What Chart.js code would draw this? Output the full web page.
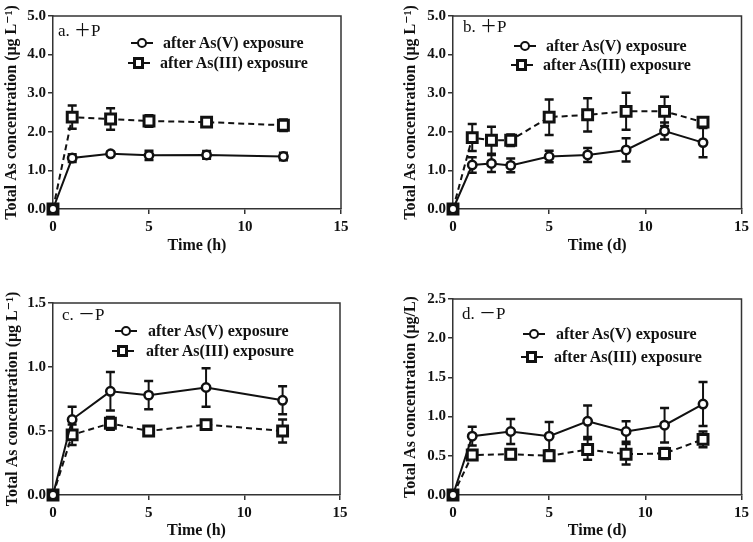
<!DOCTYPE html>
<html>
<head>
<meta charset="utf-8">
<script src="https://cdn.jsdelivr.net/npm/chart.js@4.4.1/dist/chart.umd.min.js"></script>
<style>
  body { margin: 0; background: #fff; }
  #page { position: relative; width: 753px; height: 542px; overflow: hidden; }
  .panel { position: absolute; }
  .panel canvas { position: absolute; left: 0; top: 0; }
  .tag { position: absolute; font: 17px "Liberation Serif", "Noto Sans CJK SC", serif; color: #111; white-space: nowrap; line-height: 18px; }
  .leg { position: absolute; font: bold 16px "Liberation Serif", serif; color: #111; white-space: nowrap; line-height: 16px; }
  .sym { position: absolute; width: 22px; height: 12px; }
  .sym .ln { position: absolute; left: 0; right: 0; top: 5px; border-top: 2px solid #111; }
  .sym .ln.dashed { border-top-style: dashed; }
  .sym .mk { position: absolute; background: #fff; border: 2.5px solid #111; box-sizing: border-box; }
  .sym .mk.circle { left: 6px; top: 1px; width: 10px; height: 10px; border-radius: 50%; }
  .sym .mk.square { left: 5px; top: 0px; width: 11px; height: 12px; border-width: 3px; }
</style>
</head>
<body>
<div id="page">
  <div class="panel" id="pa" style="left:0;top:0;width:376px;height:271px;">
    <canvas id="chartA" width="376" height="271"></canvas>
    <div class="tag" style="left:58px;top:22px;">a. ＋P</div>
  </div>
  <div class="panel" id="pb" style="left:376px;top:0;width:377px;height:271px;">
    <canvas id="chartB" width="377" height="271"></canvas>
    <div class="tag" style="left:87px;top:18px;">b. ＋P</div>
  </div>
  <div class="panel" id="pc" style="left:0;top:271px;width:376px;height:271px;">
    <canvas id="chartC" width="376" height="271"></canvas>
    <div class="tag" style="left:62px;top:35px;">c. －P</div>
  </div>
  <div class="panel" id="pd" style="left:376px;top:271px;width:377px;height:271px;">
    <canvas id="chartD" width="377" height="271"></canvas>
    <div class="tag" style="left:86px;top:34px;">d. －P</div>
  </div>
</div>

<script>
const seriesNames = ["after As(V) exposure", "after As(III) exposure"];
const xTicks = [0, 5, 10, 15];

// a. +P, hours
const hoursA = [0, 1, 3, 5, 8, 12];
const asVPlusH = [0, 1.32, 1.43, 1.39, 1.40, 1.36];
const asVPlusHErr = [0, 0.10, 0.05, 0.12, 0.10, 0.10];
const asIIIPlusH = [0, 2.38, 2.33, 2.28, 2.25, 2.17];
const asIIIPlusHErr = [0, 0.30, 0.28, 0.15, 0.12, 0.15];
const yTicksA = [0, 1, 2, 3, 4, 5];

// b. +P, days
const daysB = [0, 1, 2, 3, 5, 7, 9, 11, 13];
const asVPlusD = [0, 1.14, 1.18, 1.13, 1.36, 1.40, 1.53, 2.02, 1.72];
const asVPlusDErr = [0, 0.20, 0.22, 0.18, 0.15, 0.18, 0.30, 0.22, 0.38];
const asIIIPlusD = [0, 1.85, 1.78, 1.78, 2.38, 2.44, 2.53, 2.53, 2.25];
const asIIIPlusDErr = [0, 0.35, 0.35, 0.15, 0.46, 0.43, 0.48, 0.38, 0.10];
const yTicksB = [0, 1, 2, 3, 4, 5];

// c. -P, hours
const hoursC = [0, 1, 3, 5, 8, 12];
const asVMinusH = [0, 0.59, 0.81, 0.78, 0.84, 0.74];
const asVMinusHErr = [0, 0.10, 0.15, 0.11, 0.15, 0.11];
const asIIIMinusH = [0, 0.47, 0.56, 0.50, 0.55, 0.50];
const asIIIMinusHErr = [0, 0.08, 0.05, 0.02, 0.03, 0.09];
const yTicksC = [0, 0.5, 1.0, 1.5];

// d. -P, days
const daysD = [0, 1, 3, 5, 7, 9, 11, 13];
const asVMinusD = [0, 0.75, 0.81, 0.75, 0.94, 0.81, 0.89, 1.16];
const asVMinusDErr = [0, 0.12, 0.16, 0.18, 0.20, 0.13, 0.22, 0.28];
const asIIIMinusD = [0, 0.51, 0.52, 0.50, 0.58, 0.52, 0.53, 0.71];
const asIIIMinusDErr = [0, 0.04, 0.06, 0.06, 0.13, 0.13, 0.07, 0.10];
const yTicksD = [0, 0.5, 1.0, 1.5, 2.0, 2.5];

const serif = "'Liberation Serif', 'Times New Roman', 'DejaVu Serif', serif";
const ink = "#111";

// vertical error bars, drawn under the markers
const errorBars = {
  id: "errorBars",
  beforeDatasetsDraw(chart) {
    const ctx = chart.ctx;
    const xs = chart.scales.x, ys = chart.scales.y;
    ctx.save();
    ctx.strokeStyle = ink;
    chart.data.datasets.forEach(ds => {
      ds.data.forEach((p, i) => {
        const e = ds.errors[i];
        if (!e) return;
        const px = xs.getPixelForValue(p.x);
        const top = ys.getPixelForValue(p.y + e);
        const bot = ys.getPixelForValue(p.y - e);
        ctx.lineWidth = 2;
        ctx.beginPath();
        ctx.moveTo(px, top); ctx.lineTo(px, bot);
        ctx.stroke();
        ctx.lineWidth = 2.5;
        ctx.beginPath();
        ctx.moveTo(px - 4.5, top); ctx.lineTo(px + 4.5, top);
        ctx.moveTo(px - 4.5, bot); ctx.lineTo(px + 4.5, bot);
        ctx.stroke();
      });
    });
    ctx.restore();
  }
};

// top and right side of the box
const frame = {
  id: "frame",
  beforeDatasetsDraw(chart) {
    const {ctx, chartArea: a} = chart;
    ctx.save();
    ctx.strokeStyle = "#333";
    ctx.lineWidth = 1.5;
    ctx.beginPath();
    ctx.moveTo(a.left, a.top);
    ctx.lineTo(a.right, a.top);
    ctx.lineTo(a.right, a.bottom);
    ctx.stroke();
    ctx.restore();
  }
};

function addLegend(panelId, rows) {
  const panel = document.getElementById(panelId);
  seriesNames.forEach((name, i) => {
    const r = rows[i];
    const sym = document.createElement("div");
    sym.className = "sym";
    sym.style.left = r.symX + "px";
    sym.style.top = (r.y - 6) + "px";
    const ln = document.createElement("div");
    ln.className = i === 0 ? "ln" : "ln dashed";
    const mk = document.createElement("div");
    mk.className = i === 0 ? "mk circle" : "mk square";
    sym.appendChild(ln);
    sym.appendChild(mk);
    const txt = document.createElement("div");
    txt.className = "leg";
    txt.style.left = r.textX + "px";
    txt.style.top = (r.y - 8) + "px";
    txt.textContent = name;
    panel.appendChild(sym);
    panel.appendChild(txt);
  });
}

function drawPanel(cfg) {
  const canvas = document.getElementById(cfg.canvas);
  const W = canvas.width, H = canvas.height;
  const area = cfg.area;
  const pts = (xs, ys) => xs.map((t, i) => ({x: t, y: ys[i]}));

  new Chart(canvas, {
    type: "line",
    data: {
      datasets: [
        {
          label: seriesNames[0],
          data: pts(cfg.x, cfg.asV),
          errors: cfg.asVErr,
          borderColor: ink,
          borderWidth: 2,
          pointStyle: "circle",
          pointRadius: 4.2,
          pointBorderWidth: 2.5,
          pointBackgroundColor: "#fff",
          pointBorderColor: ink,
          tension: 0,
          clip: false
        },
        {
          label: seriesNames[1],
          data: pts(cfg.x, cfg.asIII),
          errors: cfg.asIIIErr,
          borderColor: ink,
          borderWidth: 2,
          borderDash: [6, 4],
          pointStyle: "rect",
          pointRadius: 7,
          pointBorderWidth: 3,
          pointBackgroundColor: "#fff",
          pointBorderColor: ink,
          tension: 0,
          clip: false
        }
      ]
    },
    options: {
      responsive: false,
      animation: false,
      events: [],
      layout: {padding: {left: 0, top: area.top, right: W - area.right, bottom: 0}},
      plugins: {legend: {display: false}, tooltip: {enabled: false}},
      scales: {
        x: {
          type: "linear",
          min: 0,
          max: 15,
          afterBuildTicks: s => { s.ticks = xTicks.map(v => ({value: v})); },
          afterFit: s => { s.height = H - area.bottom; },
          border: {display: true, color: "#333", width: 1.5},
          grid: {drawOnChartArea: false, drawTicks: true, tickLength: 5, color: "#333", lineWidth: 1.5},
          ticks: {color: ink, padding: 4, font: {family: serif, size: 15, weight: "bold"}},
          title: {
            display: true,
            text: cfg.xTitle,
            color: ink,
            font: {family: serif, size: 16, weight: "bold"},
            padding: {top: 0, bottom: cfg.xTitlePad}
          }
        },
        y: {
          type: "linear",
          min: 0,
          max: cfg.yTicks[cfg.yTicks.length - 1],
          afterBuildTicks: s => { s.ticks = cfg.yTicks.map(v => ({value: v})); },
          afterFit: s => { s.width = area.left; },
          border: {display: true, color: "#333", width: 1.5},
          grid: {drawOnChartArea: false, drawTicks: true, tickLength: 5, color: "#333", lineWidth: 1.5},
          ticks: {color: ink, padding: 2, font: {family: serif, size: 15, weight: "bold"}, callback: v => v.toFixed(1)},
          title: {
            display: true,
            text: cfg.yTitle,
            color: ink,
            font: {family: serif, size: 16, weight: "bold"},
            padding: {top: cfg.yTitlePad, bottom: 0}
          }
        }
      }
    },
    plugins: [frame, errorBars]
  });
}

const yTitleL = "Total As concentration (\u03bcg L\u207b\u00b9)";

drawPanel({
  canvas: "chartA", x: hoursA,
  asV: asVPlusH, asVErr: asVPlusHErr, asIII: asIIIPlusH, asIIIErr: asIIIPlusHErr,
  yTicks: yTicksA, xTitle: "Time (h)", yTitle: yTitleL,
  area: {left: 53, right: 341, top: 16, bottom: 209}, xTitlePad: 16, yTitlePad: 2
});
drawPanel({
  canvas: "chartB", x: daysB,
  asV: asVPlusD, asVErr: asVPlusDErr, asIII: asIIIPlusD, asIIIErr: asIIIPlusDErr,
  yTicks: yTicksB, xTitle: "Time (d)", yTitle: yTitleL,
  area: {left: 77, right: 366, top: 16, bottom: 209}, xTitlePad: 16, yTitlePad: 25
});
drawPanel({
  canvas: "chartC", x: hoursC,
  asV: asVMinusH, asVErr: asVMinusHErr, asIII: asIIIMinusH, asIIIErr: asIIIMinusHErr,
  yTicks: yTicksC, xTitle: "Time (h)", yTitle: yTitleL,
  area: {left: 53, right: 340, top: 32, bottom: 224}, xTitlePad: 2, yTitlePad: 3
});
drawPanel({
  canvas: "chartD", x: daysD,
  asV: asVMinusD, asVErr: asVMinusDErr, asIII: asIIIMinusD, asIIIErr: asIIIMinusDErr,
  yTicks: yTicksD, xTitle: "Time (d)", yTitle: "Total As concentration (\u03bcg/L)",
  area: {left: 77, right: 368, top: 28, bottom: 224}, xTitlePad: 2, yTitlePad: 25
});

addLegend("pa", [{symX: 131, textX: 163, y: 43}, {symX: 128, textX: 160, y: 63}]);
addLegend("pb", [{symX: 138, textX: 170, y: 46}, {symX: 135, textX: 167, y: 65}]);
addLegend("pc", [{symX: 115, textX: 148, y: 60}, {symX: 112, textX: 146, y: 80}]);
addLegend("pd", [{symX: 147, textX: 180, y: 63}, {symX: 145, textX: 178, y: 86}]);
</script>
</body>
</html>
